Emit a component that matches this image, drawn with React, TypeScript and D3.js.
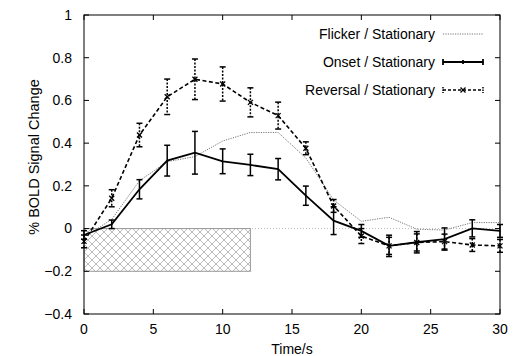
import React from "react";
import * as d3 from "d3";

const times = [0, 2, 4, 6, 8, 10, 12, 14, 16, 18, 20, 22, 24, 26, 28, 30];
const flicker = [-0.04, 0.043, 0.224, 0.313, 0.337, 0.41, 0.45, 0.45, 0.33, 0.134, 0.034, 0.053, -0.003, -0.007, 0.028, 0.028];
const onset = [-0.03, 0.02, 0.184, 0.318, 0.355, 0.315, 0.298, 0.278, 0.154, 0.037, -0.011, -0.081, -0.064, -0.049, 0.001, -0.011];
const onsetErr = [0.02, 0.02, 0.045, 0.072, 0.1, 0.058, 0.05, 0.05, 0.045, 0.065, 0.03, 0.05, 0.05, 0.052, 0.04, 0.03];
const reversal = [-0.06, 0.142, 0.438, 0.617, 0.699, 0.677, 0.591, 0.529, 0.376, 0.106, -0.035, -0.081, -0.065, -0.061, -0.077, -0.081];
const reversalErr = [0.03, 0.04, 0.055, 0.083, 0.095, 0.08, 0.068, 0.063, 0.03, 0.03, 0.035, 0.04, 0.04, 0.035, 0.03, 0.03];
const xTicks = [0, 5, 10, 15, 20, 25, 30];
const yTicks = [-0.4, -0.2, 0, 0.2, 0.4, 0.6, 0.8, 1];
const legendLabels = ["Flicker / Stationary", "Onset / Stationary", "Reversal / Stationary"];
const stimulusPeriod = [0, 12];
const stimulusRange = [0, -0.2];

const W = 521, H = 356;
const L = 84, R = 500, T = 15, B = 314;

export default function App() {
  const x = d3.scaleLinear().domain([0, 30]).range([L, R]);
  const y = d3.scaleLinear().domain([-0.4, 1]).range([B, T]);
  const line = d3.line<[number, number]>().x(d => x(d[0])).y(d => y(d[1]));
  const pts = (vals: number[]) => times.map((t, i) => [t, vals[i]] as [number, number]);
  const font = "'Liberation Sans', Arial, Helvetica, sans-serif";
  const fs = 14;
  const tk = 5;
  const cap = 3;

  const errBars = (vals: number[], errs: number[], dash?: string) =>
    times.map((t, i) => {
      const cx = x(t), y1 = y(vals[i] + errs[i]), y2 = y(vals[i] - errs[i]);
      return (
        <g key={i} stroke="#000" strokeWidth={1.5} strokeDasharray={dash}>
          <line x1={cx} x2={cx} y1={y1} y2={y2} />
          <line x1={cx - cap} x2={cx + cap} y1={y1} y2={y1} strokeDasharray="none" />
          <line x1={cx - cap} x2={cx + cap} y1={y2} y2={y2} strokeDasharray="none" />
        </g>
      );
    });

  const xMark = (cx: number, cy: number, k: any) => (
    <g key={k} stroke="#000" strokeWidth={1.3}>
      <line x1={cx - 2.5} x2={cx + 2.5} y1={cy - 2.5} y2={cy + 2.5} />
      <line x1={cx - 2.5} x2={cx + 2.5} y1={cy + 2.5} y2={cy - 2.5} />
    </g>
  );

  const legY = [34, 62, 90];
  const legTextX = 435, legL = 443, legR = 483;

  return (
    <svg width={W} height={H} style={{ position: "absolute", left: 0, top: 0, background: "#fff" }}>
      <defs>
        <pattern id="hatch" width="8" height="8" patternUnits="userSpaceOnUse">
          <path d="M0,0 L8,8 M8,0 L0,8" stroke="#aaa" strokeWidth={0.8} fill="none" />
        </pattern>
      </defs>
      <rect x={0} y={0} width={W} height={H} fill="#fff" />
      {/* zero line */}
      <line x1={x(0)} x2={x(30)} y1={y(0)} y2={y(0)} stroke="#bbb" strokeWidth={1} strokeDasharray="1,2" />
      {/* stimulus hatch */}
      <rect x={x(stimulusPeriod[0])} y={y(stimulusRange[0])} width={x(stimulusPeriod[1]) - x(stimulusPeriod[0])}
        height={y(stimulusRange[1]) - y(stimulusRange[0])} fill="url(#hatch)" stroke="#999" strokeWidth={1} />
      {/* frame */}
      <rect x={L} y={T} width={R - L} height={B - T} fill="none" stroke="#000" strokeWidth={1} />
      {xTicks.map(t => (
        <g key={"x" + t}>
          <line x1={x(t)} x2={x(t)} y1={B} y2={B - tk} stroke="#000" />
          <line x1={x(t)} x2={x(t)} y1={T} y2={T + tk} stroke="#000" />
          <text x={x(t)} y={334} textAnchor="middle" fontFamily={font} fontSize={fs}>{t}</text>
        </g>
      ))}
      {yTicks.map(t => (
        <g key={"y" + t}>
          <line x1={L} x2={L + tk} y1={y(t)} y2={y(t)} stroke="#000" />
          <line x1={R} x2={R - tk} y1={y(t)} y2={y(t)} stroke="#000" />
          <text x={72} y={y(t)} dy="0.35em" textAnchor="end" fontFamily={font} fontSize={fs}>{d3.format("~g")(t)}</text>
        </g>
      ))}
      <text x={(L + R) / 2} y={354} textAnchor="middle" fontFamily={font} fontSize={fs}>Time/s</text>
      <text transform={`translate(39,157) rotate(-90)`} textAnchor="middle" fontFamily={font} fontSize={14.5}>% BOLD Signal Change</text>

      {/* flicker */}
      <path d={line(pts(flicker)) || ""} fill="none" stroke="#777" strokeWidth={1} strokeDasharray="1.2,1.2" />
      {/* onset */}
      <path d={line(pts(onset)) || ""} fill="none" stroke="#000" strokeWidth={1.8} />
      {errBars(onset, onsetErr)}
      {/* reversal */}
      <path d={line(pts(reversal)) || ""} fill="none" stroke="#000" strokeWidth={1.6} strokeDasharray="4,2.5" />
      {errBars(reversal, reversalErr, "2,1.5")}
      {times.map((t, i) => xMark(x(t), y(reversal[i]), "m" + i))}

      {/* legend */}
      {legendLabels.map((lab, i) => (
        <text key={lab} x={legTextX} y={legY[i]} dy="0.35em" textAnchor="end" fontFamily={font} fontSize={fs}>{lab}</text>
      ))}
      <line x1={legL} x2={legR} y1={legY[0]} y2={legY[0]} stroke="#777" strokeWidth={1} strokeDasharray="1.2,1.2" />
      <g stroke="#000" strokeWidth={1.8}>
        <line x1={legL} x2={legR} y1={legY[1]} y2={legY[1]} />
        <line x1={legL} x2={legL} y1={legY[1] - 3} y2={legY[1] + 3} />
        <line x1={legR} x2={legR} y1={legY[1] - 3} y2={legY[1] + 3} />
        <line x1={(legL + legR) / 2} x2={(legL + legR) / 2} y1={legY[1] - 2} y2={legY[1] + 2} />
      </g>
      <g stroke="#000" strokeWidth={1.5}>
        <line x1={legL} x2={legR} y1={legY[2]} y2={legY[2]} strokeDasharray="3,2" />
        <line x1={legL} x2={legL} y1={legY[2] - 3} y2={legY[2] + 3} strokeDasharray="1.5,1" />
        <line x1={legR} x2={legR} y1={legY[2] - 3} y2={legY[2] + 3} strokeDasharray="1.5,1" />
      </g>
      {xMark((legL + legR) / 2, legY[2], "lm")}
    </svg>
  );
}
